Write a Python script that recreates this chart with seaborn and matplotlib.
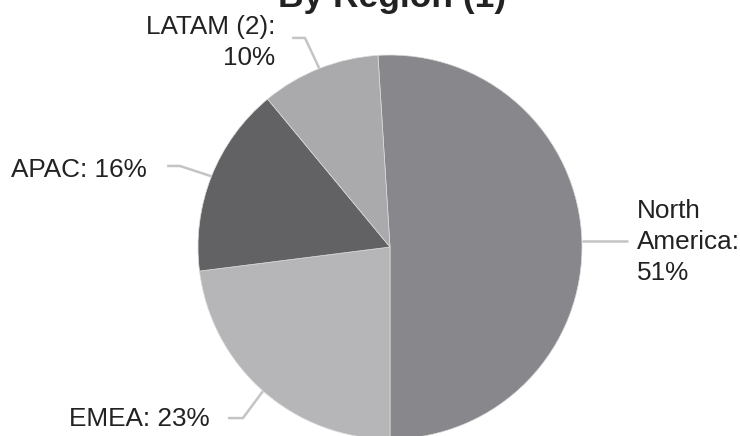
import matplotlib
matplotlib.use("Agg")
import matplotlib.pyplot as plt
import seaborn as sns
import numpy as np

# ---- data ----
regions = ["North America", "EMEA", "APAC", "LATAM (2)"]
shares = [51, 23, 16, 10]
label_texts = ["North\nAmerica:\n51%", "EMEA: 23%", "APAC: 16%", "LATAM (2):\n10%"]
title = "By Region (1)"

# ---- styles ----
colors = ["#88888c", "#b6b6b9", "#626264", "#aaaaad"]
leader_color = "#c4c4c4"

sns.set_theme(style="white")
plt.rcParams["font.family"] = ["Liberation Sans", "DejaVu Sans"]

fig = plt.figure(figsize=(7.4, 4.36), dpi=100)
# circle radius 192 px centered at (390, 247) from top-left
ax = fig.add_axes([(390 - 192) / 740, (436 - 247 - 192) / 436, 384 / 740, 384 / 436])

# first slice ends straight down
start = -90 + 360 * shares[0] / sum(shares)
wedges, _ = ax.pie(shares, colors=colors, startangle=start, counterclock=False,
                   radius=1.0, wedgeprops=dict(edgecolor="#dcdcdc", linewidth=0.5))
ax.set_xlim(-1, 1)
ax.set_ylim(-1, 1)
ax.set_aspect("equal")
ax.axis("off")

# label layout: (elbow_x, elbow_y, end_x, end_y, text_x, last-line baseline y, ha)
layout = [
    (None, None, 1.24, None, 1.286, -0.172, "left"),
    (-0.766, -0.891, -0.844, -0.891, -0.9375, -0.93, "right"),
    (-1.094, 0.422, -1.161, 0.422, -1.266, 0.365, "right"),
    (-0.443, 1.089, -0.510, 1.089, -0.599, 0.948, "right"),
]

for w, txt, (ex, ey, x2, y2, tx, ty, ha) in zip(wedges, label_texts, layout):
    mid = np.deg2rad((w.theta1 + w.theta2) / 2)
    px, py = np.cos(mid), np.sin(mid)
    if ex is None:
        xs, ys = [px, x2], [py, py]
    else:
        xs, ys = [px, ex, x2], [py, ey, y2]
    ax.plot(xs, ys, color=leader_color, lw=1.8, clip_on=False, solid_capstyle="butt")
    ax.text(tx, ty, txt, ha=ha, va="baseline", fontsize=18.8, color="#222222",
            linespacing=1.36, multialignment=ha, clip_on=False)

fig.text(392 / 740, 1 - 7 / 436, title, ha="center", va="baseline",
         fontsize=25.5, fontweight="bold", color="#222222")

fig.savefig("out.png", dpi=100, facecolor="white")
